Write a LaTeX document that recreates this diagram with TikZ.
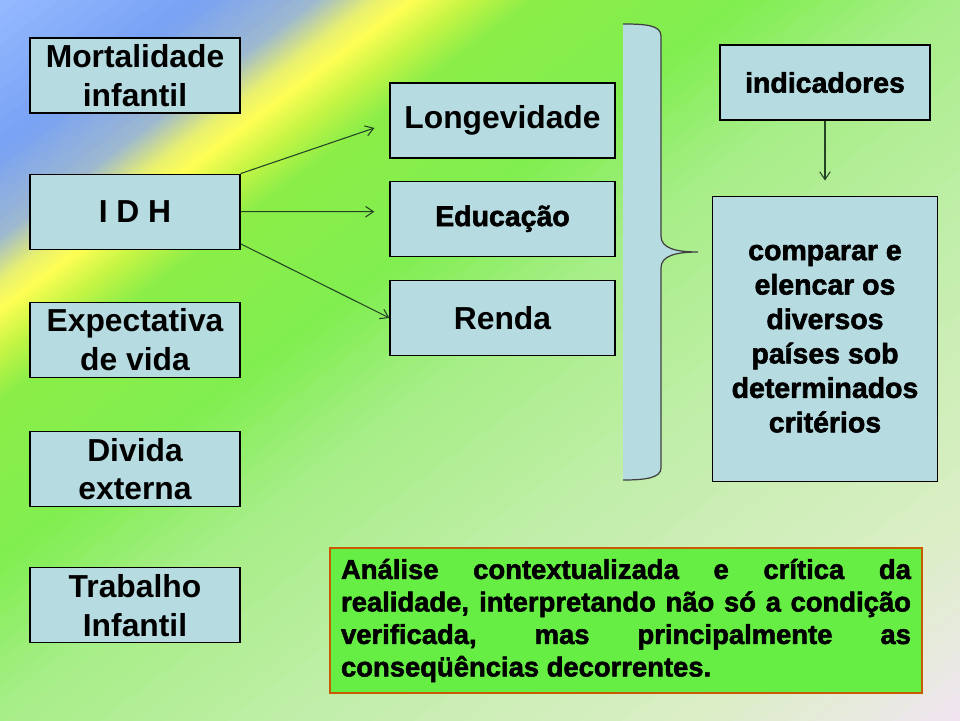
\documentclass[tikz,border=0pt]{standalone}
\usepackage{fontspec}
\setmainfont{Liberation Sans}
\newfontfamily\heavyfont{Liberation Sans}[BoldFeatures={FakeBold=2}]
\usetikzlibrary{arrows.meta, positioning, calc}

\definecolor{boxblue}{HTML}{B6DCE2}
\definecolor{boxgreen}{HTML}{66EE44}
\definecolor{boxrim}{HTML}{C85A00}
\definecolor{arrowgreen}{HTML}{244224}
\definecolor{bgA}{HTML}{95BAFF}
\definecolor{bgB}{HTML}{78A2F4}
\definecolor{bgC}{HTML}{9DB8D0}
\definecolor{bgD}{HTML}{E8F070}
\definecolor{bgE}{HTML}{FFFF55}
\definecolor{bgF}{HTML}{C8F545}
\definecolor{bgG}{HTML}{8CEE48}
\definecolor{bgH}{HTML}{80EE50}
\definecolor{bgI}{HTML}{A5EE85}
\definecolor{bgJ}{HTML}{C0EEA8}
\definecolor{bgK}{HTML}{DCEEC8}
\definecolor{bgL}{HTML}{F2E4F2}

\newcommand\bracecurve{(623,24) .. controls (645,24) and (661,25) .. (661,36) -- (661,236) .. controls (661,248) and (675,252) .. (698,252) .. controls (675,252) and (661,256) .. (661,268) -- (661,468) .. controls (661,478) and (645,480) .. (623,480)}

\begin{document}
\begin{tikzpicture}[x=0.02cm, y=-0.02cm, >={Straight Barb[length=4.5pt,width=6pt]},
    box/.style={draw, line width=0.7pt, fill=boxblue, minimum width=4.2cm, minimum height=1.5cm,
      inner sep=0pt, align=center, font=\fontsize{18.1}{22.1}\selectfont\bfseries},
    heavybox/.style={box, font=\fontsize{16.2}{19.6}\selectfont\heavyfont\bfseries},
    link/.style={->, draw=arrowgreen, line width=0.6pt}]
    \useasboundingbox (0,0) rectangle (960,720);
    % background
    \begin{scope}
        \clip (0,0) rectangle (960,720);
        \foreach \ta/\tb/\ca/\cb in {0/120/bgA/bgB, 120/190/bgB/bgC, 190/225/bgC/bgD, 225/248/bgD/bgE,
            248/280/bgE/bgF, 280/320/bgF/bgG, 320/450/bgG/bgH, 450/560/bgH/bgI, 560/750/bgI/bgJ,
            750/1000/bgJ/bgK, 1000/1160/bgK/bgL} {
            \foreach \k in {0,...,9} {
                \pgfmathsetmacro{\tu}{\ta+(\tb-\ta)*\k/10}
                \pgfmathsetmacro{\tv}{\ta+(\tb-\ta)*(\k+1)/10+1}
                \pgfmathtruncatemacro{\mix}{95-\k*10}
                \fill[\ca!\mix!\cb] ({0.6*\tu+640},{0.8*\tu-480}) -- ({0.6*\tu-640},{0.8*\tu+480})
                    -- ({0.6*\tv-640},{0.8*\tv+480}) -- ({0.6*\tv+640},{0.8*\tv-480}) -- cycle;
            }
        }
    \end{scope}

    % left column
    \node[box] (mort) at (135,75.5) {Mortalidade\\infantil};
    \node[box, below=1.2cm of mort] (idh) {I D H};
    \node[box, below=1.04cm of idh] (expec) {Expectativa\\de vida};
    \node[box, below=1.06cm of expec] (divida) {Divida\\externa};
    \node[box, below=1.2cm of divida] (trab) {Trabalho\\Infantil};

    % middle column
    \node[box, minimum width=4.5cm] (long) at (502.5,120.5) {Longevidade};
    \node[heavybox, minimum width=4.5cm, below=0.44cm of long] (edu) {Educação};
    \node[box, minimum width=4.5cm, below=0.46cm of edu] (renda) {Renda};

    % brace
    \fill[boxblue] \bracecurve -- cycle;
    \draw[line width=0.7pt, draw=black!75] \bracecurve;

    % right column
    \node[heavybox] (ind) at (825,82.5) {indicadores};
    \node[heavybox, minimum width=4.5cm, minimum height=5.7cm, below=1.5cm of ind] (comp)
        {comparar e\\elencar os\\diversos\\países sob\\determinados\\critérios};

    \node[draw=boxrim, line width=1pt, fill=boxgreen, minimum width=11.84cm, minimum height=2.9cm,
        inner sep=0pt, text width=11.4cm, align=justify,
        font=\fontsize{15.6}{18.5}\selectfont\heavyfont\bfseries] (analise) at (626,620.5)
        {Análise contextualizada e crítica da\linebreak realidade, interpretando não só a condição\linebreak
         verificada, mas principalmente as\linebreak conseqüências decorrentes.};

    \draw[link] (idh.north east) -- ($(long.west)+(-15,7.5)$);
    \draw[link] (idh.east) -- ($(edu.west)+(-15,-7)$);
    \draw[link] ($(idh.south east)+(0,-6)$) -- (renda.west);
    \draw[link] (ind.south) -- ($(comp.north)+(0,-15)$);
\end{tikzpicture}
\end{document}
